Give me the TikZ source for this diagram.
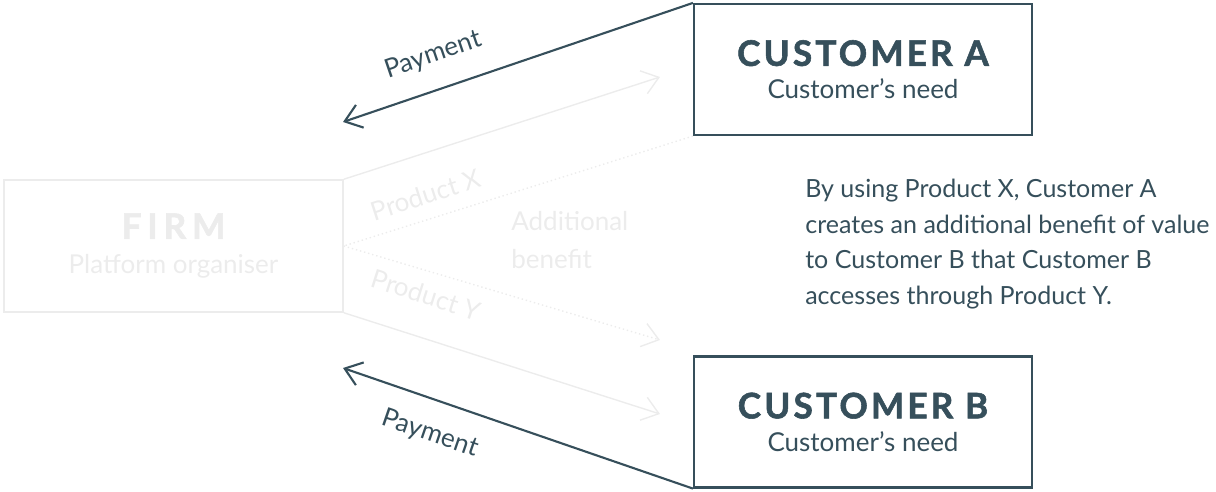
\documentclass[tikz,border=0pt]{standalone}
\usepackage{fontspec}
\setmainfont{Lato}
\newfontfamily\spacedfont{Lato}[LetterSpace=9.0,BoldFeatures={FakeBold=1.6}]
\usetikzlibrary{arrows.meta}
\definecolor{slate}{HTML}{364F5B}
\definecolor{ghost}{HTML}{ECECEC}
\tikzset{
  custbox/.style={draw=slate,line width=1.5pt,minimum width=8.45cm,minimum height=3.275cm,align=center,text=slate,inner sep=0pt},
  ghostbox/.style={draw=ghost,line width=1pt,minimum width=8.475cm,minimum height=3.3cm,align=center,text=ghost,inner sep=0pt},
  payarrow/.style={draw=slate,line width=1.5pt,-{Straight Barb[length=0.4cm,width=0.6cm,line width=1.5pt]}},
  ghostarrow/.style={draw=ghost,line width=1pt,-{Straight Barb[length=0.4cm,width=0.6cm,line width=1pt]}},
  lbl/.style={font=\fontsize{18.5}{21}\selectfont}
}
\begin{document}
\begin{tikzpicture}[x=0.025cm,y=-0.025cm]
  \useasboundingbox (0,0) rectangle (1216,492);
  % boxes
  \node[custbox] (custA) at (863,69.5) {{\spacedfont\bfseries\fontsize{25}{29}\selectfont CUSTOMER A}\\[0.28cm]{\fontsize{18.5}{21}\selectfont Customer’s need}};
  \node[custbox] (custB) at (863,422) {{\spacedfont\bfseries\fontsize{25}{29}\selectfont CUSTOMER B}\\[0.28cm]{\fontsize{18.5}{21}\selectfont Customer’s need}};
  \node[ghostbox] (firm) at (173.5,246) {{\spacedfont\bfseries\fontsize{25}{29}\selectfont F\,I\,R\,M}\\[0.36cm]{\fontsize{18.5}{21}\selectfont Platform organiser}};
  \coordinate (payAend) at (343,122);
  \coordinate (payBend) at (343,368);
  \coordinate (prodXend) at (660,77);
  \coordinate (prodYend) at (660,414);
  \coordinate (benefitend) at (660,340);
  % payments
  \draw[payarrow] (custA.north west) -- (payAend) node[lbl,text=slate,pos=0.71,sloped,above=0.42cm] (payAlbl) {Payment};
  \draw[payarrow] (custB.south west) -- (payBend) node[lbl,text=slate,pos=0.72,sloped,below=0.42cm] (payBlbl) {Payment};
  % products
  \draw[ghostarrow] (firm.north east) -- (prodXend) node[lbl,text=ghost,pos=0.22,sloped,below=0.62cm] (prodXlbl) {Product X};
  \draw[ghostarrow] (firm.south east) -- (prodYend) node[lbl,text=ghost,pos=0.22,sloped,above=0.68cm] (prodYlbl) {Product Y};
  \draw[ghost,line width=1pt,dotted] (custA.south west) -- (firm.east);
  \draw[ghostarrow,dotted] (firm.east) -- (benefitend);
  \node[lbl,text=ghost,anchor=west,align=left,inner sep=0pt,font=\fontsize{18.5}{26.5}\selectfont] (benefit) at (511,240) {Additional\\benefit};
  % explanation
  \node[text=slate,anchor=north west,align=left,inner sep=0pt,font=\fontsize{17.8}{25.2}\selectfont] (note) at (805,179)
    {By using Product X, Customer A\\creates an additional benefit of value\\to Customer B that Customer B\\accesses through Product Y.};
\end{tikzpicture}
\end{document}
